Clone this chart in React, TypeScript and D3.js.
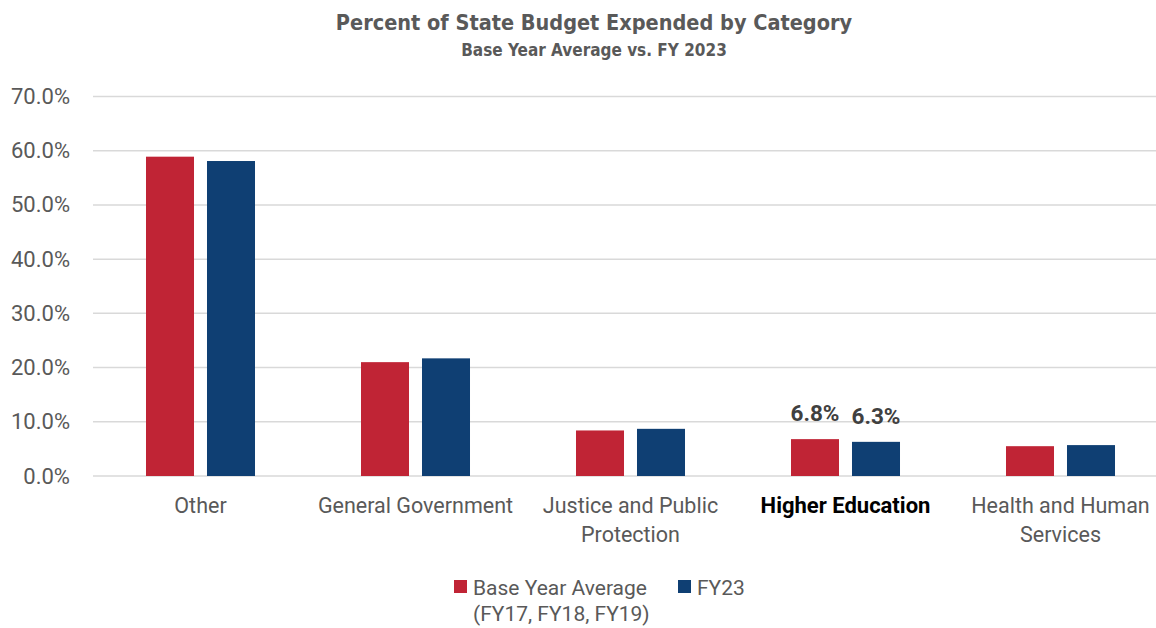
// Percent of State Budget Expended by Category - grouped bar chart
import React, { useEffect, useRef } from 'react';
import * as d3 from 'd3';

const categories = ['Other', 'General Government', 'Justice and Public Protection', 'Higher Education', 'Health and Human Services'];
const categoryLines = [['Other'], ['General Government'], ['Justice and Public', 'Protection'], ['Higher Education'], ['Health and Human', 'Services']];
const seriesNames = ['Base Year Average', 'FY23'];
const baseYearValues = [58.9, 21.0, 8.4, 6.8, 5.5];
const fy23Values = [58.1, 21.7, 8.7, 6.3, 5.7];
const yTicks = [0, 10, 20, 30, 40, 50, 60, 70];
const highlighted = 'Higher Education';

const seriesColors = ['#C02435', '#0F3F73'];

const W = 1156;
const H = 628;

const App: React.FC = () => {
  const svgRef = useRef<SVGSVGElement>(null);

  useEffect(() => {
    if (!svgRef.current) return;
    const svg = d3.select(svgRef.current);
    svg.selectAll('*').remove();

    const bodyFont = 'Roboto, "Open Sans", sans-serif';
    const narrowFont = '"Liberation Sans Narrow", "DejaVu Sans Condensed", Roboto, sans-serif';

    const y = d3.scaleLinear().domain([0, 70]).range([476, 96.5]);
    const x0 = d3.scaleBand<string>()
      .domain(categories)
      .range([93, 1168])
      .paddingInner(0.493)
      .paddingOuter(0.2465);
    const x1 = d3.scaleBand<string>()
      .domain(seriesNames)
      .range([0, x0.bandwidth()])
      .paddingInner(0.213)
      .paddingOuter(0);

    // Title
    svg.append('text')
      .attr('x', 594).attr('y', 30)
      .attr('text-anchor', 'middle')
      .attr('font-family', narrowFont)
      .attr('font-weight', 'bold')
      .attr('font-size', 21.5)
      .attr('fill', '#595959')
      .text('Percent of State Budget Expended by Category');
    svg.append('text')
      .attr('x', 594).attr('y', 56)
      .attr('text-anchor', 'middle')
      .attr('font-family', narrowFont)
      .attr('font-weight', 'bold')
      .attr('font-size', 17)
      .attr('fill', '#595959')
      .text('Base Year Average vs. FY 2023');

    // Gridlines
    svg.append('g').selectAll('line')
      .data(yTicks)
      .enter().append('line')
      .attr('x1', 93).attr('x2', W)
      .attr('y1', d => y(d)).attr('y2', d => y(d))
      .attr('stroke', '#D9D9D9')
      .attr('stroke-width', 1.5);

    // Y tick labels
    svg.append('g').selectAll('text')
      .data(yTicks)
      .enter().append('text')
      .attr('x', 70)
      .attr('y', d => y(d) + 7.5)
      .attr('text-anchor', 'end')
      .attr('font-family', bodyFont)
      .attr('font-size', 22)
      .attr('fill', '#595959')
      .text(d => d.toFixed(1) + '%');

    // Bars
    const rows = categories.map((c, i) => ({ cat: c, values: [baseYearValues[i], fy23Values[i]] }));
    const groups = svg.append('g').selectAll('g')
      .data(rows)
      .enter().append('g')
      .attr('transform', d => `translate(${x0(d.cat)},0)`);

    groups.selectAll('rect')
      .data(d => d.values.map((v, j) => ({ series: seriesNames[j], v, j })))
      .enter().append('rect')
      .attr('x', d => x1(d.series) as number)
      .attr('width', x1.bandwidth())
      .attr('y', d => y(d.v))
      .attr('height', d => y(0) - y(d.v))
      .attr('fill', d => seriesColors[d.j]);

    // Data labels for highlighted category
    const hi = rows.find(r => r.cat === highlighted);
    if (hi) {
      svg.append('g').selectAll('text')
        .data(hi.values.map((v, j) => ({ series: seriesNames[j], v })))
        .enter().append('text')
        .attr('x', d => (x0(highlighted) as number) + (x1(d.series) as number) + x1.bandwidth() / 2)
        .attr('y', d => y(d.v) - 18)
        .attr('text-anchor', 'middle')
        .attr('font-family', bodyFont)
        .attr('font-weight', 'bold')
        .attr('font-size', 22.5)
        .attr('fill', '#404040')
        .text(d => d.v.toFixed(1) + '%');
    }

    // Category labels
    categories.forEach((c, i) => {
      const cx = (x0(c) as number) + x0.bandwidth() / 2;
      const isHi = c === highlighted;
      const t = svg.append('text')
        .attr('text-anchor', 'middle')
        .attr('font-family', bodyFont)
        .attr('font-size', isHi ? 22 : 21.5)
        .attr('font-weight', isHi ? 'bold' : 'normal')
        .attr('fill', isHi ? '#000000' : '#595959');
      categoryLines[i].forEach((line, k) => {
        t.append('tspan')
          .attr('x', cx)
          .attr('y', 513 + k * 29)
          .text(line);
      });
    });

    // Legend
    const legend = svg.append('g');
    const legendItems = [
      { x: 454, lines: ['Base Year Average', '(FY17, FY18, FY19)'] },
      { x: 678, lines: ['FY23'] }
    ];
    legendItems.forEach((item, i) => {
      legend.append('rect')
        .attr('x', item.x).attr('y', 580)
        .attr('width', 13).attr('height', 13)
        .attr('fill', seriesColors[i]);
      const t = legend.append('text')
        .attr('font-family', bodyFont)
        .attr('font-size', 21)
        .attr('fill', '#595959');
      item.lines.forEach((line, k) => {
        t.append('tspan')
          .attr('x', item.x + 19)
          .attr('y', 595 + k * 26)
          .text(line);
      });
    });
  }, []);

  return (
    <svg
      ref={svgRef}
      width={W}
      height={H}
      style={{ display: 'block', position: 'absolute', left: 0, top: 0, background: '#fff' }}
    />
  );
};

export default App;
